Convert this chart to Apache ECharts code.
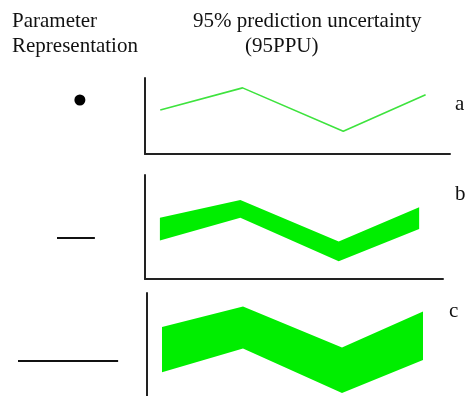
<!DOCTYPE html>
<html>
<head>
<meta charset="utf-8">
<style>
  html, body { margin: 0; padding: 0; background: #fff; }
  #chart { width: 470px; height: 396px; }
</style>
<script src="https://cdn.jsdelivr.net/npm/echarts@6/dist/echarts.min.js"></script>
</head>
<body>
<div id="chart"></div>
<script>
// Time positions shared by all three simulation panels
var timeX = [0.5, 3.2, 6.5, 9.2];

// (a) single-valued parameter: one simulated curve
var curveA = [5.8, 8.7, 3.0, 7.8];

// (b) narrow parameter range: 95PPU band
var upperB = [5.9, 7.6, 3.6, 6.9];
var lowerB = [3.7, 5.9, 1.7, 4.8];

// (c) wide parameter range: 95PPU band
var upperC = [6.7, 8.7, 4.7, 8.2];
var lowerC = [2.3, 4.6, 0.3, 3.5];

// Parameter representation: range (low, high) and row position
var paramLow = [0.13, -0.48, -1.52];
var paramHigh = [0.13, 0.53, 1.15];
var paramRow = [1.0, 2.38, 3.61];

var panelLabels = ['a', 'b', 'c'];

var AXIS = '#222';
var GREEN = '#00ee00';
var SERIF = '"Liberation Serif", "Times New Roman", serif';

function bandRows(lower, upper) {
  return timeX.map(function (x, i) { return [x, lower[i], upper[i]]; });
}

function renderBand(rows) {
  return function (params, api) {
    if (params.dataIndex !== 0) return;
    var top = rows.map(function (r) { return api.coord([r[0], r[2]]); });
    var bottom = rows.map(function (r) { return api.coord([r[0], r[1]]); }).reverse();
    return {
      type: 'polygon',
      shape: { points: top.concat(bottom) },
      style: { fill: GREEN, stroke: null }
    };
  };
}

function xAxisFor(idx, showLine) {
  return {
    type: 'value', gridIndex: idx, min: 0, max: 10,
    axisLine: { show: showLine, onZero: false, lineStyle: { color: AXIS, width: 2 } },
    axisTick: { show: false }, axisLabel: { show: false }, splitLine: { show: false }
  };
}
function yAxisFor(idx, showLine) {
  return {
    type: 'value', gridIndex: idx, min: 0, max: 10,
    axisLine: { show: showLine, onZero: false, lineStyle: { color: AXIS, width: 2 } },
    axisTick: { show: false }, axisLabel: { show: false }, splitLine: { show: false }
  };
}

var bRows = bandRows(lowerB, upperB);
var cRows = bandRows(lowerC, upperC);
var paramRows = paramLow.map(function (lo, i) { return [lo, paramHigh[i], paramRow[i]]; });

var chart = echarts.init(document.getElementById('chart'), null, { renderer: 'canvas' });
chart.setOption({
  animation: false,
  backgroundColor: '#fff',
  grid: [
    { left: 145, top: 78, width: 305, height: 76 },
    { left: 145, top: 175, width: 298, height: 104 },
    { left: 147, top: 293, width: 300, height: 103 },
    { left: 0, top: 0, width: 150, height: 396 }
  ],
  xAxis: [
    xAxisFor(0, true), xAxisFor(1, true), xAxisFor(2, false),
    { type: 'value', gridIndex: 3, min: -2, max: 2, show: false }
  ],
  yAxis: [
    yAxisFor(0, true), yAxisFor(1, true), yAxisFor(2, true),
    { type: 'value', gridIndex: 3, min: 0, max: 3.96, inverse: true, show: false }
  ],
  series: [
    {
      type: 'line', xAxisIndex: 0, yAxisIndex: 0,
      data: timeX.map(function (x, i) { return [x, curveA[i]]; }),
      showSymbol: false, symbol: 'none',
      lineStyle: { color: '#3ee33e', width: 1.6 }
    },
    {
      type: 'custom', xAxisIndex: 1, yAxisIndex: 1,
      data: bRows, renderItem: renderBand(bRows)
    },
    {
      type: 'custom', xAxisIndex: 2, yAxisIndex: 2,
      data: cRows, renderItem: renderBand(cRows)
    },
    {
      type: 'custom', xAxisIndex: 3, yAxisIndex: 3,
      data: paramRows,
      renderItem: function (params, api) {
        var lo = api.value(0), hi = api.value(1), row = api.value(2);
        var p0 = api.coord([lo, row]);
        var p1 = api.coord([hi, row]);
        if (lo === hi) {
          return { type: 'circle', shape: { cx: p0[0], cy: p0[1], r: 5.5 }, style: { fill: '#000' } };
        }
        return {
          type: 'line',
          shape: { x1: p0[0], y1: p0[1], x2: p1[0], y2: p1[1] },
          style: { stroke: '#111', lineWidth: 2 }
        };
      }
    }
  ],
  graphic: [
    { type: 'text', left: 12, top: 11, style: { text: 'Parameter', font: '21px ' + SERIF, fill: '#111' } },
    { type: 'text', left: 12, top: 36, style: { text: 'Representation', font: '21px ' + SERIF, fill: '#111' } },
    { type: 'text', left: 193, top: 11, style: { text: '95% prediction uncertainty', font: '21px ' + SERIF, fill: '#111' } },
    { type: 'text', left: 245, top: 36, style: { text: '(95PPU)', font: '21px ' + SERIF, fill: '#111' } },
    { type: 'text', left: 455, top: 94, style: { text: panelLabels[0], font: '21px ' + SERIF, fill: '#111' } },
    { type: 'text', left: 455, top: 184, style: { text: panelLabels[1], font: '21px ' + SERIF, fill: '#111' } },
    { type: 'text', left: 449, top: 301, style: { text: panelLabels[2], font: '21px ' + SERIF, fill: '#111' } }
  ]
});
</script>
</body>
</html>
